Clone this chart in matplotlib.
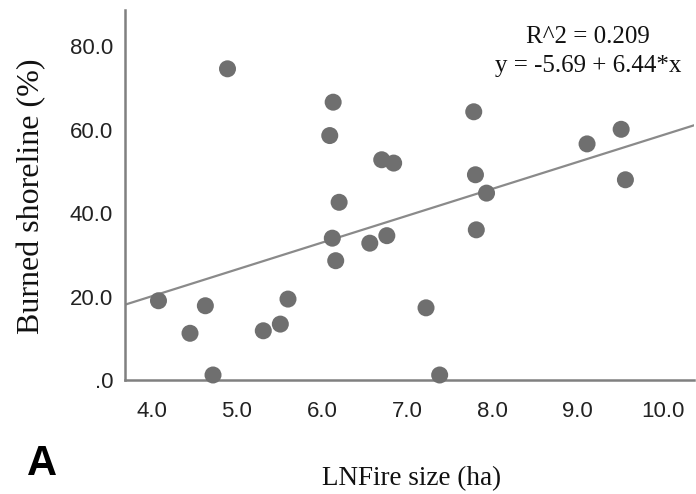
import matplotlib
matplotlib.use("Agg")
import matplotlib.pyplot as plt
import numpy as np

# Data
lnfire_size = [4.08, 4.45, 4.63, 4.72, 4.89, 5.31, 5.51, 5.60, 6.09, 6.13,
               6.12, 6.16, 6.20, 6.56, 6.70, 6.84, 6.76, 7.22, 7.38, 7.78,
               7.80, 7.81, 7.93, 9.11, 9.51, 9.56]
burned_shoreline = [19.0, 11.2, 17.8, 1.2, 74.6, 11.8, 13.4, 19.4, 58.6, 66.6,
                    34.0, 28.6, 42.6, 32.8, 52.8, 52.0, 34.6, 17.3, 1.2, 64.3,
                    49.2, 36.0, 44.8, 56.6, 60.1, 48.0]
intercept = -5.69
slope = 6.44
r_squared = 0.209
x_ticks = [4.0, 5.0, 6.0, 7.0, 8.0, 9.0, 10.0]
x_tick_labels = ["4.0", "5.0", "6.0", "7.0", "8.0", "9.0", "10.0"]
y_ticks = [0, 20, 40, 60, 80]
y_tick_labels = [".0", "20.0", "40.0", "60.0", "80.0"]

fig = plt.figure(figsize=(6.96, 4.94), dpi=100)
ax = fig.add_axes([125/696, 1-380/494, (694-125)/696, (380-10)/494])

xlim = (3.687, 10.365)
ylim = (0, 88.7)
ax.set_xlim(*xlim)
ax.set_ylim(*ylim)

xl = np.array(xlim)
ax.plot(xl, intercept + slope*xl, color="#8a8a8a", lw=1.6, zorder=2, clip_on=True)
ax.scatter(lnfire_size, burned_shoreline, s=150, color="#6f6f6f", edgecolors="none",
           zorder=3, clip_on=False)

for s in ["top", "right"]:
    ax.spines[s].set_visible(False)
for s in ["left", "bottom"]:
    ax.spines[s].set_color("#808080")
    ax.spines[s].set_linewidth(1.8)

ax.set_xticks(x_ticks)
ax.set_xticklabels(x_tick_labels)
ax.set_yticks(y_ticks)
ax.set_yticklabels(y_tick_labels)
ax.tick_params(length=0, labelsize=16, colors="#222222")
ax.tick_params(axis="x", pad=15)
ax.tick_params(axis="y", pad=8.6)
for lab in ax.get_xticklabels() + ax.get_yticklabels():
    lab.set_family("Liberation Sans")

ax.set_xlabel("LNFire size (ha)", family="Liberation Serif", fontsize=19.5, color="#111111")
ax.xaxis.set_label_coords((412-125)/(694-125), -(466-380)/370)
ax.set_ylabel("Burned shoreline (%)", family="Liberation Serif", fontsize=23, color="#111111")
ax.yaxis.set_label_coords(-(125-46)/(694-125), (380-196)/370)

fig.text(588/696, 1-37/494, "R^2 = 0.209", family="Liberation Serif", fontsize=18,
         ha="center", va="center", color="#111111")
fig.text(588/696, 1-66/494, "y = -5.69 + 6.44*x", family="Liberation Serif", fontsize=18,
         ha="center", va="center", color="#111111")

fig.text(42/696, 1-464/494, "A", family=["Liberation Sans Narrow", "Liberation Sans"],
         fontweight="bold", fontsize=30, ha="center", va="center", color="black")

fig.savefig("out.png", dpi=100)
